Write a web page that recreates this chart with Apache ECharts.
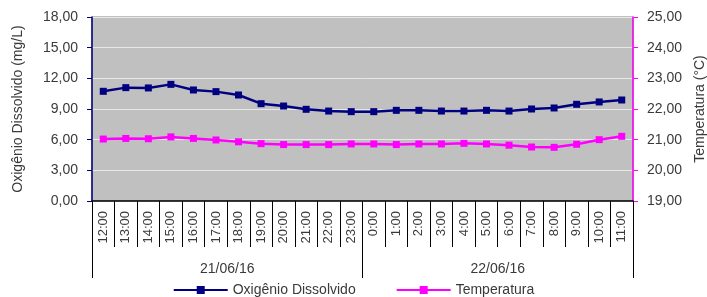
<!DOCTYPE html>
<html>
<head>
<meta charset="utf-8">
<script src="https://cdn.jsdelivr.net/npm/echarts@6/dist/echarts.min.js"></script>
<style>
  html, body { margin: 0; padding: 0; background: #fff; }
  #chart { width: 707px; height: 297px; }
</style>
</head>
<body>
<div id="chart"></div>
<script>
  var horas = ['12:00','13:00','14:00','15:00','16:00','17:00','18:00','19:00','20:00','21:00','22:00','23:00',
               '0:00','1:00','2:00','3:00','4:00','5:00','6:00','7:00','8:00','9:00','10:00','11:00'];
  var dias = ['21/06/16', '22/06/16'];
  var oxigenio = [10.73, 11.09, 11.06, 11.41, 10.86, 10.70, 10.37, 9.52, 9.29, 8.97, 8.80, 8.74,
                  8.74, 8.87, 8.87, 8.80, 8.80, 8.87, 8.80, 9.00, 9.10, 9.46, 9.69, 9.88];
  var temperatura = [21.02, 21.04, 21.03, 21.09, 21.04, 20.99, 20.93, 20.87, 20.84, 20.84, 20.84, 20.86,
                     20.86, 20.84, 20.86, 20.86, 20.88, 20.86, 20.82, 20.76, 20.75, 20.85, 21.00, 21.11];

  var fonte = 'Liberation Sans';
  var cinza = '#3a3a3a';
  function virgula(v) { return v.toFixed(2).replace('.', ','); }

  var chart = echarts.init(document.getElementById('chart'));
  chart.setOption({
    animation: false,
    textStyle: { fontFamily: fonte },
    grid: {
      left: 92, right: 74, top: 17, bottom: 96,
      outerBoundsMode: 'none',
      containLabel: false,
      show: true,
      backgroundColor: '#c0c0c0',
      borderColor: '#808080',
      borderWidth: 1
    },
    legend: {
      bottom: -5,
      left: 'center',
      itemWidth: 54,
      itemHeight: 10,
      itemGap: 40,
      textStyle: { fontFamily: fonte, fontSize: 14, color: cinza },
      data: ['Oxigênio Dissolvido', 'Temperatura']
    },
    xAxis: [
      {
        type: 'category',
        data: horas,
        boundaryGap: true,
        axisLine: { lineStyle: { color: '#000', width: 1.5 } },
        axisTick: { show: true, interval: 0, length: 46, lineStyle: { color: '#000' } },
        axisLabel: { interval: 0, rotate: 90, margin: 10, fontSize: 13, color: cinza, fontFamily: fonte },
        splitLine: { show: false }
      },
      {
        type: 'category',
        data: dias,
        position: 'bottom',
        boundaryGap: true,
        axisLine: { show: false },
        axisTick: { show: true, interval: 0, length: 77, lineStyle: { color: '#000' } },
        axisLabel: { interval: 0, margin: 61, fontSize: 14, color: cinza, fontFamily: fonte },
        splitLine: { show: false }
      }
    ],
    yAxis: [
      {
        type: 'value',
        min: 0, max: 18, interval: 3,
        name: 'Oxigênio Dissolvido (mg/L)',
        nameLocation: 'middle',
        nameRotate: 90,
        nameGap: 67,
        nameTextStyle: { fontSize: 14, color: cinza, fontFamily: fonte },
        axisLine: { show: true, lineStyle: { color: '#000080', width: 1.5 } },
        axisTick: { show: true, length: 5, lineStyle: { color: '#000080' } },
        axisLabel: { formatter: virgula, fontSize: 14, color: cinza, margin: 14, fontFamily: fonte },
        splitLine: { show: true, lineStyle: { color: '#e8e8e8', width: 1 } }
      },
      {
        type: 'value',
        min: 19, max: 25, interval: 1,
        position: 'right',
        name: 'Temperatura (°C)',
        nameLocation: 'middle',
        nameRotate: 90,
        nameGap: 58,
        nameTextStyle: { fontSize: 14, color: cinza, fontFamily: fonte },
        axisLine: { show: true, lineStyle: { color: '#ff00ff', width: 1.5 } },
        axisTick: { show: true, length: 5, lineStyle: { color: '#ff00ff' } },
        axisLabel: { formatter: virgula, fontSize: 14, color: cinza, margin: 14, fontFamily: fonte },
        splitLine: { show: false }
      }
    ],
    series: [
      {
        name: 'Oxigênio Dissolvido',
        type: 'line',
        data: oxigenio,
        xAxisIndex: 0,
        yAxisIndex: 0,
        symbol: 'rect',
        symbolSize: 7,
        lineStyle: { color: '#000080', width: 2.5 },
        itemStyle: { color: '#000080' }
      },
      {
        name: 'Temperatura',
        type: 'line',
        data: temperatura,
        xAxisIndex: 0,
        yAxisIndex: 1,
        symbol: 'rect',
        symbolSize: 7,
        lineStyle: { color: '#ff00ff', width: 2.5 },
        itemStyle: { color: '#ff00ff' }
      }
    ]
  });
</script>
</body>
</html>
